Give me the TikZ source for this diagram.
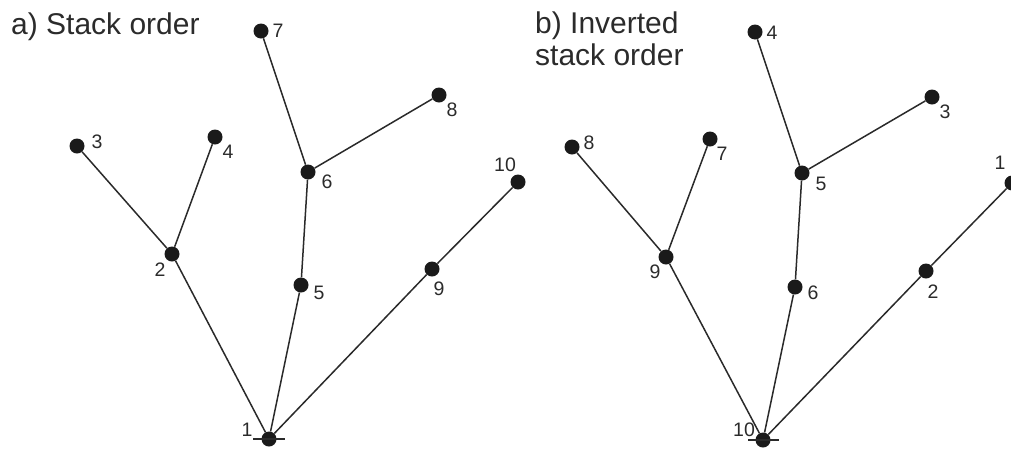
\documentclass[tikz,border=0pt]{standalone}
\usepackage{fontspec}
\setmainfont{Liberation Sans}
\definecolor{ink}{HTML}{1A1A1A}
\definecolor{wire}{HTML}{2A2A2A}
\definecolor{txt}{HTML}{2B2B2B}
\tikzset{
  dot/.style={circle, fill=ink, draw=none, inner sep=0pt, minimum size=15pt},
  link/.style={draw=wire, line width=1.5pt},
  lbl/.style={text=txt, inner sep=0pt, font=\fontsize{19.5}{22}\selectfont},
  title/.style={text=txt, inner sep=0pt, anchor=base west, font=\fontsize{30}{32}\selectfont},
  tick/.style={draw=wire, line width=1.5pt}
}
\begin{document}
\begin{tikzpicture}[x=1pt, y=-1pt]
\useasboundingbox (0,0) rectangle (1011,448);

% ---- a) stack order ----
\node[title] (ta) at (11,34) {a) Stack order};

\node[dot] (a1)  at (269,439) {};
\node[dot] (a2)  at (172,254) {};
\node[dot] (a3)  at (77,146)  {};
\node[dot] (a4)  at (215,137) {};
\node[dot] (a5)  at (301,285) {};
\node[dot] (a6)  at (308,172) {};
\node[dot] (a7)  at (261,31)  {};
\node[dot] (a8)  at (439,95)  {};
\node[dot] (a9)  at (432,269) {};
\node[dot] (a10) at (518,182) {};

\coordinate (a1l) at (253,439);
\coordinate (a1r) at (285,439);
\draw[tick] (a1l) -- (a1r);

\draw[link] (a1) -- (a2) (a2) -- (a3) (a2) -- (a4)
            (a1) -- (a5) (a5) -- (a6) (a6) -- (a7) (a6) -- (a8)
            (a1) -- (a9) (a9) -- (a10);

\node[lbl] (la1)  at (247,430) {1};
\node[lbl] (la2)  at (160,270) {2};
\node[lbl] (la3)  at (97,142)  {3};
\node[lbl] (la4)  at (228,152) {4};
\node[lbl] (la5)  at (319,293) {5};
\node[lbl] (la6)  at (327,182) {6};
\node[lbl] (la7)  at (278,31)  {7};
\node[lbl] (la8)  at (452,110) {8};
\node[lbl] (la9)  at (439,289) {9};
\node[lbl] (la10) at (505,165) {10};

% ---- b) inverted stack order ----
\node[title] (tb1) at (535,33) {b) Inverted};
\node[title] (tb2) at (535,65) {stack order};

\node[dot] (b10) at (763,440) {};
\node[dot] (b9)  at (666,257) {};
\node[dot] (b8)  at (572,147) {};
\node[dot] (b7)  at (710,139) {};
\node[dot] (b6)  at (795,287) {};
\node[dot] (b5)  at (802,173) {};
\node[dot] (b4)  at (755,32)  {};
\node[dot] (b3)  at (932,97)  {};
\node[dot] (b2)  at (926,271) {};
\node[dot] (b1)  at (1012,183) {};

\coordinate (b10l) at (748,440);
\coordinate (b10r) at (779,440);
\draw[tick] (b10l) -- (b10r);

\draw[link] (b10) -- (b9) (b9) -- (b8) (b9) -- (b7)
            (b10) -- (b6) (b6) -- (b5) (b5) -- (b4) (b5) -- (b3)
            (b10) -- (b2) (b2) -- (b1);

\node[lbl] (lb10) at (744,430) {10};
\node[lbl] (lb9)  at (655,272) {9};
\node[lbl] (lb8)  at (589,143) {8};
\node[lbl] (lb7)  at (722,154) {7};
\node[lbl] (lb6)  at (813,293) {6};
\node[lbl] (lb5)  at (821,184) {5};
\node[lbl] (lb4)  at (772,33)  {4};
\node[lbl] (lb3)  at (945,112) {3};
\node[lbl] (lb2)  at (933,292) {2};
\node[lbl] (lb1)  at (1000,163) {1};
\end{tikzpicture}
\end{document}
